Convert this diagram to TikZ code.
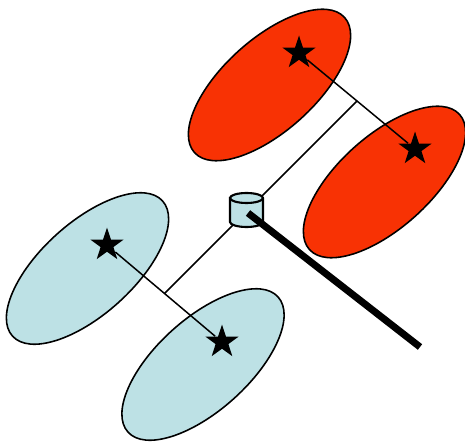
\documentclass[tikz,border=0pt]{standalone}
\usepackage{xcolor}
\usepackage{tikz}
\usetikzlibrary{shapes.geometric, calc}
\definecolor{lobered}{RGB}{248,50,4}
\definecolor{lobeblue}{RGB}{189,225,229}

\begin{document}
\begin{tikzpicture}[
  x=0.02cm, y=-0.02cm,
  lobe/.style={draw, ellipse, line width=0.9pt, minimum width=4.04cm, minimum height=1.84cm, rotate=42, inner sep=0pt},
  site/.style={star, star points=5, star point ratio=2.6, fill=black, minimum size=0.7cm, inner sep=0pt},
  drum/.style={fill=lobeblue, draw, line width=1.2pt},
  rim/.style={x radius=0.33cm, y radius=0.1cm},
  link/.style={line width=0.85pt}
]
\useasboundingbox (0,0) rectangle (465,445);

% lobes
\node[lobe, fill=lobered] (redA) at (269.5,85) {};
\node[lobe, fill=lobered] (redB) at (384.5,182) {};
\node[lobe, fill=lobeblue] (blueA) at (87.5,268.5) {};
\node[lobe, fill=lobeblue] (blueB) at (203,364.5) {};

% stars
\node[site] (sRA) at (299,53) {};
\node[site] (sRB) at (415,149) {};
\node[site] (sBA) at (107,245) {};
\node[site] (sBB) at (222,342) {};

\draw[link] (sRA) -- (sRB);
\draw[link] (sBA) -- (sBB);
\draw[link] ($(sRA)!0.5!(sRB)$) -- ($(sBA)!0.5!(sBB)$);

% hub and arm
\coordinate (hub) at (246.5,210);
\draw[drum] ($(hub)+(-16.5,-12)$) -- ($(hub)+(-16.5,12)$)
  arc[start angle=180, end angle=360, rim] -- ($(hub)+(16.5,-12)$)
  arc[start angle=0, end angle=180, rim] -- cycle;
\draw[line width=1.2pt] ($(hub)+(-16.5,-12)$) arc[start angle=180, end angle=360, rim];
\coordinate (arm) at (420,347);
\draw[line width=4pt] ($(hub)+(1.5,3)$) -- (arm);
\end{tikzpicture}
\end{document}
